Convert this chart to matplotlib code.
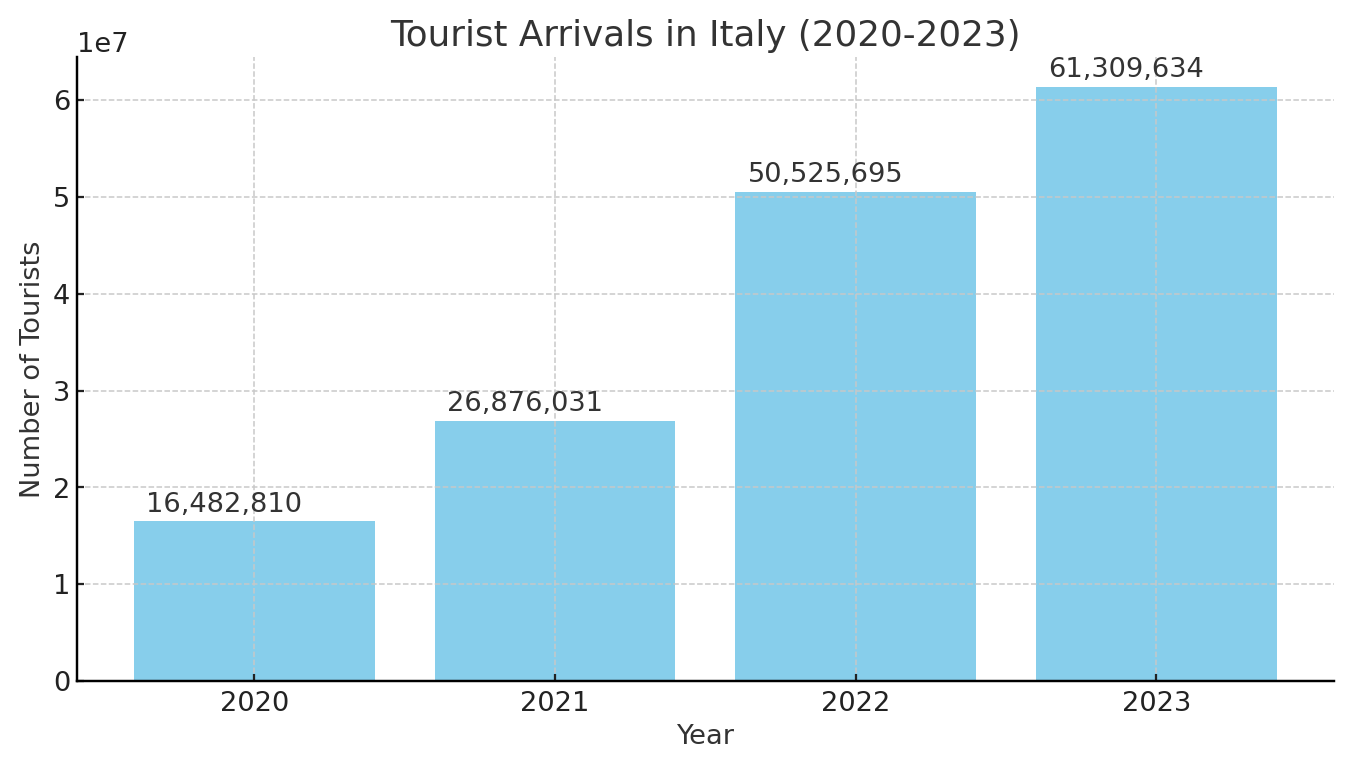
import matplotlib.pyplot as plt

# Datos
years = ['2020', '2021', '2022', '2023']
tourists = [16482810, 26876031, 50525695, 61309634]

fig, ax = plt.subplots(figsize=(10, 5.69), dpi=135)
bars = ax.bar(years, tourists, color='skyblue', width=0.8)

for i, v in enumerate(tourists):
    ax.text(i - 0.36, v + 0.04e7, f'{v:,}', ha='left', va='bottom',
            fontsize=14.5, color='#333333')

ax.set_title('Tourist Arrivals in Italy (2020-2023)', fontsize=19, color='#333333')
ax.set_xlabel('Year', fontsize=14.5, color='#333333')
ax.set_ylabel('Number of Tourists', fontsize=14.5, color='#333333')
ax.tick_params(labelsize=14.5, width=1.2, direction='in', colors='#222222')
ax.tick_params(axis='x', pad=5)
ax.yaxis.get_offset_text().set_fontsize(14.5)
ax.grid(True, linestyle='--', color='#c8c8c8', linewidth=0.8)
ax.spines['top'].set_visible(False)
ax.spines['right'].set_visible(False)
for s in ['left', 'bottom']:
    ax.spines[s].set_linewidth(1.3)
    ax.spines[s].set_color('black')

fig.subplots_adjust(left=0.057, right=0.988, top=0.925, bottom=0.113)
plt.savefig('out.png')
